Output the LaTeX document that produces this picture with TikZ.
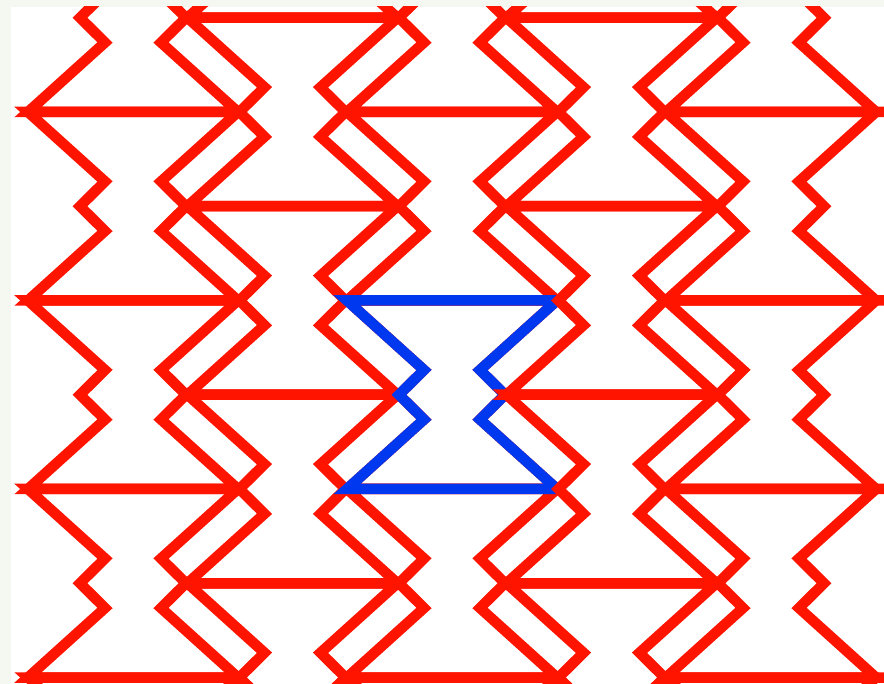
\documentclass[tikz,border=0pt]{standalone}
\usetikzlibrary{calc}
\definecolor{TileClr}{rgb}{1,0.08,0}
\definecolor{MarkClr}{rgb}{0,0.22,0.94}
\definecolor{BackClr}{rgb}{0.96,0.972,0.94}

\tikzset{
  tile/.pic={
    \draw (0,0) -- (210,0) -- (133,69.5) -- (158,94.25) -- (133,119)
      -- (210,188.5) -- (0,188.5) -- (77,119) -- (52,94.25) -- (77,69.5) -- cycle;
  }
}

\begin{document}
\begin{tikzpicture}[x=1pt,y=-1pt,line width=10.5pt]
\useasboundingbox (0,0) rectangle (884,684);
\fill[BackClr] (0,0) rectangle (884,684);
\fill[white] (11,7) rectangle (884,684);
\clip (11,7) rectangle (884,684);

% odd columns are shifted by half a tile
\foreach \c/\o in {0/112,1/17.75,2/112}
  \foreach \r in {-1,...,3}
    \pic[color=TileClr] at ({28+159.5*\c},{\o+188.5*\r}) {tile};

% the marked tile
\pic[color=MarkClr] at (347,300.5) {tile};

\foreach \c/\o in {3/17.75,4/112}
  \foreach \r in {-1,...,3}
    \pic[color=TileClr] at ({28+159.5*\c},{\o+188.5*\r}) {tile};

\end{tikzpicture}
\end{document}
